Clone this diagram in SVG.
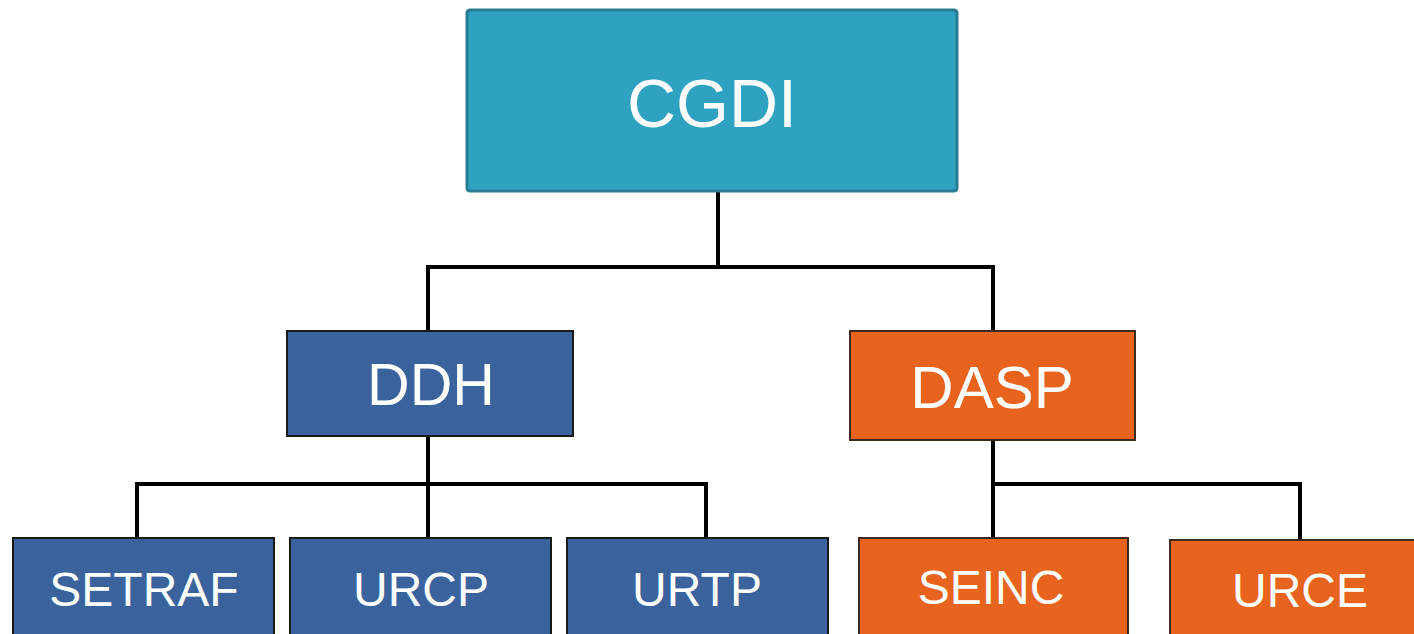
<svg xmlns="http://www.w3.org/2000/svg" width="1414" height="634" viewBox="0 0 1414 634">
<style>
.lbl{font-family:"Liberation Sans",Arial,sans-serif;fill:#ffffff;text-anchor:middle}
.blue{fill:#3A639D;stroke:#1a1a1a;stroke-width:2}
.orange{fill:#E8641E;stroke:#3a2a20;stroke-width:2}
.conn{fill:none;stroke:#000;stroke-width:4;stroke-linejoin:miter}
</style>
<rect width="1414" height="634" fill="#ffffff"/>
<g id="connectors">
<path class="conn" d="M718 191 V267 M428 331 V267 H993 V331"/>
<path class="conn" d="M428 436 V538 M137 538 V484 H706 V538"/>
<path class="conn" d="M993 440 V538 M993 484 H1300 V540"/>
</g>
<g id="CGDI">
<rect x="467" y="10" width="490" height="181" rx="3" fill="#2EA2C0" stroke="#2A7C94" stroke-width="3"/>
<text class="lbl" x="712" y="127" font-size="68">CGDI</text>
</g>
<g id="DDH">
<rect class="blue" x="287" y="331" width="286" height="105"/>
<text class="lbl" x="431" y="405" font-size="59">DDH</text>
</g>
<g id="DASP">
<rect class="orange" x="850" y="331" width="285" height="109"/>
<text class="lbl" x="992" y="408" font-size="60">DASP</text>
</g>
<g id="SETRAF">
<rect class="blue" x="13" y="538" width="261" height="110"/>
<text class="lbl" x="144" y="606" font-size="48">SETRAF</text>
</g>
<g id="URCP">
<rect class="blue" x="290" y="538" width="261" height="110"/>
<text class="lbl" x="421" y="606" font-size="48">URCP</text>
</g>
<g id="URTP">
<rect class="blue" x="567" y="538" width="261" height="110"/>
<text class="lbl" x="697" y="606" font-size="48">URTP</text>
</g>
<g id="SEINC">
<rect class="orange" x="859" y="538" width="269" height="110"/>
<text class="lbl" x="991" y="604" font-size="48">SEINC</text>
</g>
<g id="URCE">
<rect class="orange" x="1170" y="540" width="260" height="110"/>
<text class="lbl" x="1300" y="607" font-size="48">URCE</text>
</g>
</svg>
